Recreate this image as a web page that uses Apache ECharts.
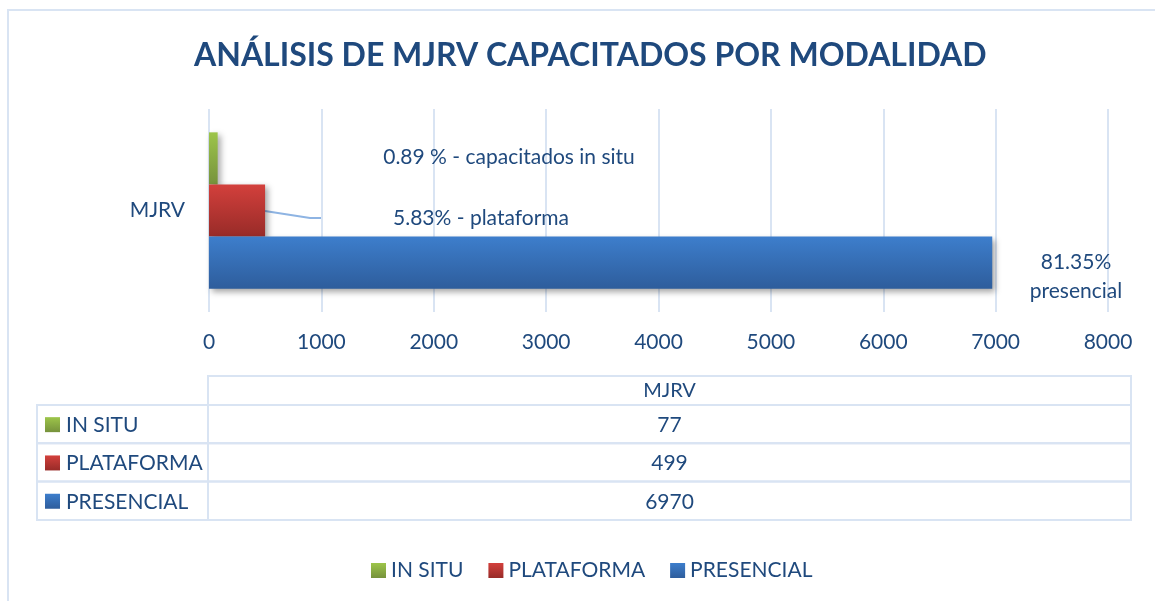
<!DOCTYPE html>
<html>
<head>
<meta charset="utf-8">
<title>Análisis de MJRV capacitados por modalidad</title>
<script src="https://cdn.jsdelivr.net/npm/echarts@6/dist/echarts.min.js"></script>
<style>
	html, body { margin: 0; padding: 0; background: #fff; }
	#chart { width: 1155px; height: 601px; }
</style>
</head>
<body>
<div id="chart"></div>
<script>
	// datos
	const categories = ['MJRV']
	const seriesNames = ['IN SITU', 'PLATAFORMA', 'PRESENCIAL']
	const inSitu = [77]
	const plataforma = [499]
	const presencial = [6970]
	const pctLabels = ['0.89 % - capacitados in situ', '5.83% - plataforma', '81.35%\npresencial']
	const xMin = 0
	const xMax = 8000
	const xInterval = 1000

	const textColor = '#1f497d'
	const borderColor = '#d9e4f3'
	const font = 'Lato, "Open Sans", sans-serif'

	// degradados estilo office
	function grad(top, bottom) {
		return new echarts.graphic.LinearGradient(0, 0, 0, 1, [
			{ offset: 0, color: top },
			{ offset: 1, color: bottom }
		])
	}
	const colors = [
		grad('#9dc54a', '#76923c'),
		grad('#d3403c', '#982b28'),
		grad('#3d7ecc', '#2e5d9c')
	]
	const seriesData = [inSitu, plataforma, presencial]

	// posiciones de las etiquetas de porcentaje
	const labelPos = [
		{ x: 509, y: 157 },
		{ x: 481, y: 218 },
		{ x: 1076, y: 277 }
	]

	const chart = echarts.init(document.getElementById('chart'))

	// tabla de datos bajo el eje
	const tbl = { left: 37, mid: 208, right: 1131, top: 376, head: 405, rowH: 38.3 }
	const lineStyle = { stroke: borderColor, lineWidth: 2 }
	const graphic = [
		// marco exterior
		{ type: 'rect', shape: { x: 8, y: 10, width: 1170, height: 620 }, style: { fill: null, stroke: borderColor, lineWidth: 2 } },
		// linea guia de la etiqueta de plataforma
		{ type: 'polyline', shape: { points: [[265, 211], [310, 218], [322, 218]] }, style: { stroke: '#8eb4e3', lineWidth: 2, fill: null } },
		// cabecera
		{ type: 'rect', shape: { x: tbl.mid, y: tbl.top, width: tbl.right - tbl.mid, height: tbl.head - tbl.top }, style: { fill: null, ...lineStyle } },
		{ type: 'text', x: (tbl.mid + tbl.right) / 2, y: (tbl.top + tbl.head) / 2, style: { text: categories[0], fill: textColor, font: '20px ' + font, align: 'center', verticalAlign: 'middle' } }
	]
	seriesNames.forEach(function (name, i) {
		const y0 = tbl.head + i * tbl.rowH
		graphic.push(
			{ type: 'rect', shape: { x: tbl.left, y: y0, width: tbl.mid - tbl.left, height: tbl.rowH }, style: { fill: null, ...lineStyle } },
			{ type: 'rect', shape: { x: tbl.mid, y: y0, width: tbl.right - tbl.mid, height: tbl.rowH }, style: { fill: null, ...lineStyle } },
			{ type: 'rect', shape: { x: 45, y: y0 + tbl.rowH / 2 - 7, width: 15, height: 15 }, style: { fill: colors[i] } },
			{ type: 'text', x: 66, y: y0 + tbl.rowH / 2 + 1, style: { text: name, fill: textColor, font: '21px ' + font, verticalAlign: 'middle' } },
			{ type: 'text', x: (tbl.mid + tbl.right) / 2, y: y0 + tbl.rowH / 2 + 1, style: { text: String(seriesData[i][0]), fill: textColor, font: '21px ' + font, align: 'center', verticalAlign: 'middle' } }
		)
	})

	chart.setOption({
		animation: false,
		title: {
			text: 'ANÁLISIS DE MJRV CAPACITADOS POR MODALIDAD',
			left: 189,
			top: 35,
			textStyle: {
				color: textColor,
				fontFamily: font,
				fontWeight: 'bold',
				fontSize: 32
			}
		},
		legend: {
			bottom: 15,
			left: 366,
			itemWidth: 15,
			itemHeight: 15,
			itemGap: 25,
			icon: 'rect',
			textStyle: { color: textColor, fontFamily: font, fontSize: 21 },
			data: seriesNames.map(function (n, i) {
				return { name: n, itemStyle: { color: colors[i] } }
			})
		},
		grid: {
			left: 209,
			right: 47,
			top: 109,
			bottom: 289
		},
		xAxis: {
			type: 'value',
			min: xMin,
			max: xMax,
			interval: xInterval,
			axisLine: { show: false },
			axisTick: { show: false },
			axisLabel: {
				color: textColor,
				fontFamily: font,
				fontSize: 21,
				margin: 20,
				formatter: function (v) { return String(v) }
			},
			splitLine: { lineStyle: { color: borderColor, width: 2 } }
		},
		yAxis: {
			type: 'category',
			inverse: true,
			data: categories,
			axisLine: { show: false },
			axisTick: { show: false },
			axisLabel: { color: textColor, fontFamily: font, fontSize: 21, margin: 24 }
		},
		graphic: graphic,
		series: seriesNames.map(function (name, i) {
			return {
				name: name,
				type: 'bar',
				data: seriesData[i],
				barGap: '0%',
				barCategoryGap: '23%',
				itemStyle: {
					color: colors[i],
					shadowColor: 'rgba(0,0,0,0.35)',
					shadowBlur: 6,
					shadowOffsetX: 3,
					shadowOffsetY: 3
				},
				label: {
					show: true,
					formatter: pctLabels[i],
					color: textColor,
					fontFamily: font,
					fontSize: 21,
					lineHeight: 29,
					align: 'center'
				},
				labelLayout: Object.assign({ align: 'center', verticalAlign: 'middle' }, labelPos[i])
			}
		})
	})
</script>
</body>
</html>
